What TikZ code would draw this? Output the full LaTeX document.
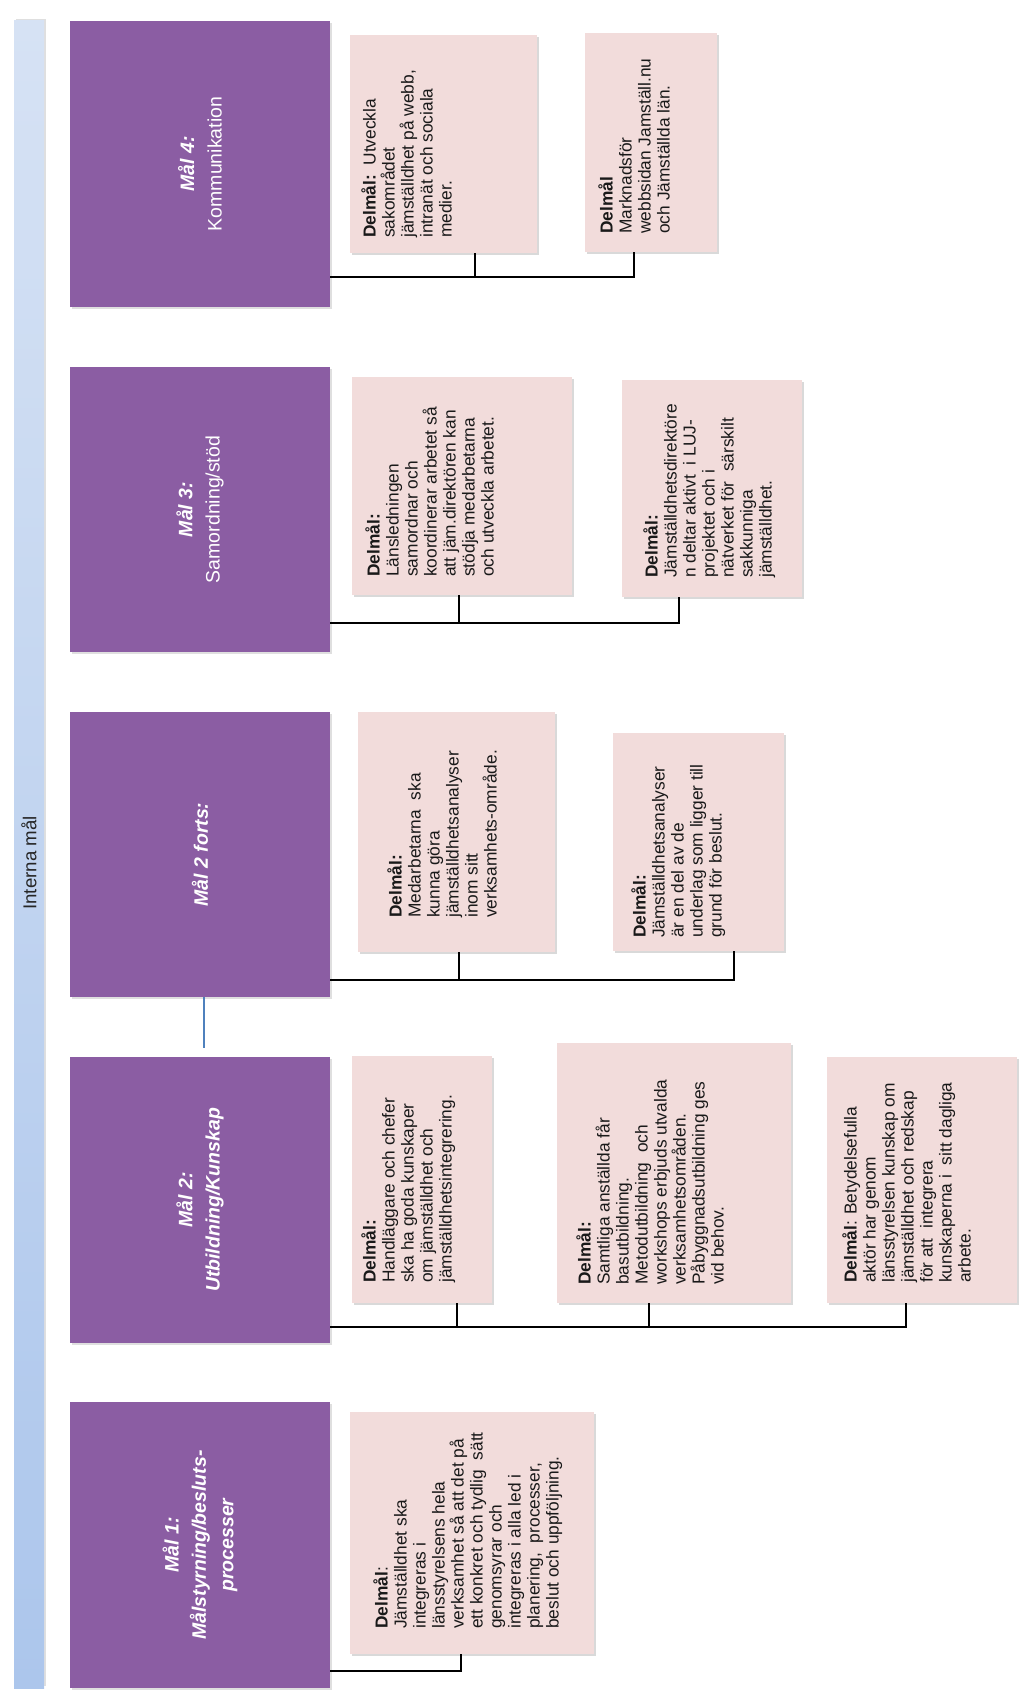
\documentclass[tikz,border=0pt]{standalone}
\usepackage{fontspec}
\setmainfont{Liberation Sans}
\usetikzlibrary{fit,shadows}
\definecolor{purp}{RGB}{139,93,163}
\definecolor{pinkbox}{RGB}{242,220,219}
\definecolor{barlight}{RGB}{214,226,244}
\definecolor{bardark}{RGB}{172,198,236}
\definecolor{lineblue}{RGB}{79,129,189}
\tikzset{
  goalbox/.style={fill=purp, draw=none, inner sep=0pt,
    drop shadow={shadow xshift=1.2pt, shadow yshift=-1.2pt, opacity=0.25}},
  subbox/.style={fill=pinkbox, draw=none, inner sep=0pt,
    drop shadow={shadow xshift=1.8pt, shadow yshift=-1.8pt, opacity=0.3}},
  subtext/.style={rotate=90, anchor=north west, align=left, inner sep=0pt,
    font=\fontsize{13}{14.25}\selectfont, text=black!90},
  goaltext/.style={rotate=90, align=center, inner sep=0pt, text=white,
    font=\fontsize{14.6}{20.5}\selectfont},
  conn/.style={draw=black, line width=1.6pt},
}
\begin{document}
\begin{tikzpicture}[x=0.75pt, y=-0.75pt]
\useasboundingbox (0,0) rectangle (1024,1702);

% side bar
\node[fit={(14,21) (44,1688)}, inner sep=0pt, top color=barlight, bottom color=bardark,
  drop shadow={shadow xshift=1.5pt, shadow yshift=1.5pt, opacity=0.25}] (bar) {};
\node[rotate=90, font=\fontsize{14}{16}\selectfont, text=black!85] (barlabel) at (29,863) {Interna mål};

% goal boxes
\node[goalbox, fit={(70,21) (330,307)}] (p4) {};
\node[goalbox, fit={(70,367) (330,652)}] (p3) {};
\node[goalbox, fit={(70,712) (330,997)}] (p2f) {};
\node[goalbox, fit={(70,1057) (330,1343)}] (p2) {};
\node[goalbox, fit={(70,1402) (330,1688)}] (p1) {};

\node[goaltext] (t4) at (p4.center) {\textbf{\textit{Mål 4:}}\\ Kommunikation};
\node[goaltext] (t3) at (p3.center) {\textbf{\textit{Mål 3:}}\\ Samordning/stöd};
\node[goaltext, font=\fontsize{14.6}{20.5}\selectfont\bfseries\itshape] (t2f) at (p2f.center) {Mål 2 forts:};
\node[goaltext, font=\fontsize{14.6}{20.5}\selectfont\bfseries\itshape] (t2) at (p2.center) {Mål 2:\\ Utbildning/Kunskap};
\node[goaltext, font=\fontsize{14.6}{20.5}\selectfont\bfseries\itshape] (t1) at (p1.center) {Mål 1:\\ Målstyrning/besluts-\\ processer};

% sub-goal boxes
\node[subbox, fit={(350,35) (537,253)}] (a4) {};
\node[subbox, fit={(585,33) (717,252)}] (b4) {};
\node[subbox, fit={(352,377) (572,595)}] (a3) {};
\node[subbox, fit={(622,380) (802,597)}] (b3) {};
\node[subbox, fit={(358,712) (555,952)}] (a2f) {};
\node[subbox, fit={(613,733) (784,951)}] (b2f) {};
\node[subbox, fit={(352,1056) (492,1303)}] (a2) {};
\node[subbox, fit={(557,1043) (791,1303)}] (b2) {};
\node[subbox, fit={(827,1057) (1017,1303)}] (c2) {};
\node[subbox, fit={(350,1412) (594,1654)}] (a1) {};

% sub-goal texts
\node[subtext] (ta4) at (361,238) {\textbf{Delmål:}\ \ Utveckla\\ sakområdet\\ jämställdhet på webb,\\ intranät och sociala\\ medier.};
\node[subtext] (tb4) at (598,234) {\textbf{Delmål}\\ Marknadsför\\ webbsidan Jamställ.nu\\ och Jämställda län.};
\node[subtext] (ta3) at (365,577) {\textbf{Delmål:}\\ Länsledningen\\ samordnar och\\ koordinerar arbetet så\\ att jäm.direktören kan\\ stödja medarbetarna\\ och utveckla arbetet.};
\node[subtext] (tb3) at (643,578) {\textbf{Delmål:}\\ Jämställdhetsdirektöre\\ n deltar aktivt\ \ i LUJ-\\ projektet och i\\ nätverket för\ \ särskilt\\ sakkunniga\\ jämställdhet.};
\node[subtext] (ta2f) at (387,918) {\textbf{Delmål:}\\ Medarbetarna\ \ ska\\ kunna göra\\ jämställdhetsanalyser\\ inom sitt\\ verksamhets-område.};
\node[subtext] (tb2f) at (631,938) {\textbf{Delmål:}\\ Jämställdhetsanalyser\\ är en del av de\\ underlag som ligger till\\ grund för beslut.};
\node[subtext] (ta2) at (361,1283) {\textbf{Delmål:}\\ Handläggare och chefer\\ ska ha goda kunskaper\\ om jämställdhet och\\ jämställdhetsintegrering.};
\node[subtext] (tb2) at (576,1285) {\textbf{Delmål:}\\ Samtliga anställda får\\ basutbildning.\\ Metodutbildning\ \ och\\ workshops erbjuds utvalda\\ verksamhetsområden.\\ Påbyggnadsutbildning ges\\ vid behov.};
\node[subtext] (tc2) at (842,1283) {\textbf{Delmål}: Betydelsefulla\\ aktör har genom\\ länsstyrelsen kunskap om\\ jämställdhet och redskap\\ för att\ \ integrera\\ kunskaperna i\ \ sitt dagliga\\ arbete.};
\node[subtext] (ta1) at (373,1629) {\textbf{Delmål}:\\ Jämställdhet ska\\ integreras i\\ länsstyrelsens hela\\ verksamhet så att det på\\ ett konkret och tydlig\ \ sätt\\ genomsyrar och\\ integreras i alla led i\\ planering,\ \ processer,\\ beslut och uppföljning.};

% connectors
\coordinate (j4a) at (475,277);
\coordinate (j4b) at (634,277);
\draw[conn] (p4.east |- j4b) -- (j4b) -- (j4b |- b4.south);
\draw[conn] (j4a) -- (j4a |- a4.south);

\coordinate (j3a) at (459,623);
\coordinate (j3b) at (679,623);
\draw[conn] (p3.east |- j3b) -- (j3b) -- (j3b |- b3.south);
\draw[conn] (j3a) -- (j3a |- a3.south);

\coordinate (j2fa) at (459,980);
\coordinate (j2fb) at (734,980);
\draw[conn] (p2f.east |- j2fb) -- (j2fb) -- (j2fb |- b2f.south);
\draw[conn] (j2fa) -- (j2fa |- a2f.south);

\coordinate (j2a) at (457,1327);
\coordinate (j2b) at (649,1327);
\coordinate (j2c) at (906,1327);
\draw[conn] (p2.east |- j2c) -- (j2c) -- (j2c |- c2.south);
\draw[conn] (j2a) -- (j2a |- a2.south);
\draw[conn] (j2b) -- (j2b |- b2.south);

\coordinate (j1a) at (461,1671);
\draw[conn] (p1.east |- j1a) -- (j1a) -- (j1a |- a1.south);

% blue link
\coordinate (bl) at (204,1048);
\draw[lineblue, line width=1.2pt] (p2f.south -| bl) -- (bl);
\end{tikzpicture}
\end{document}
